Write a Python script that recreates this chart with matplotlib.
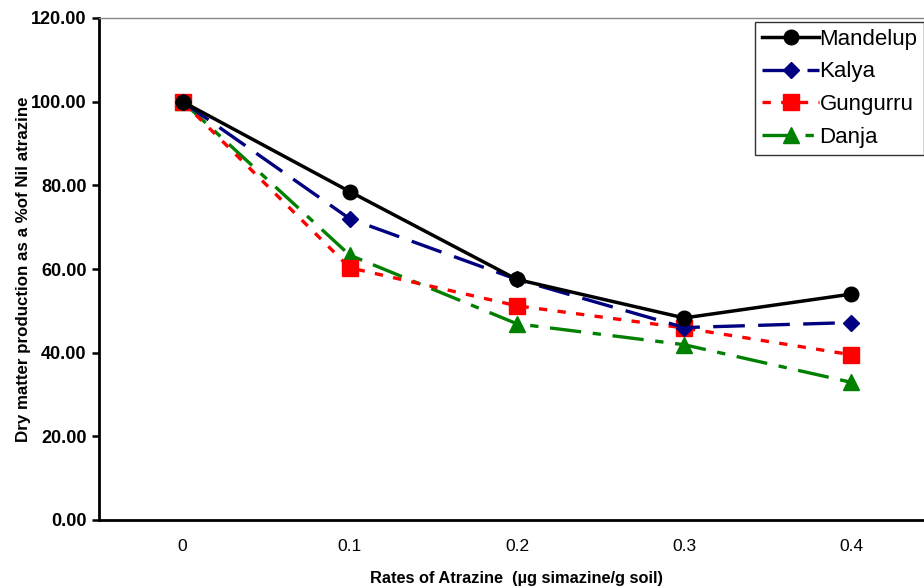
import matplotlib
matplotlib.use("Agg")
import matplotlib.pyplot as plt
import numpy as np

plt.rcParams["font.family"] = ["Liberation Sans", "DejaVu Sans"]

# Atrazine rates and relative dry matter (% of nil atrazine) per cultivar
rates = ["0", "0.1", "0.2", "0.3", "0.4"]
mandelup = [100.0, 78.5, 57.5, 48.3, 54.0]
kalya = [100.0, 72.0, 57.5, 46.0, 47.2]
gungurru = [100.0, 60.3, 51.2, 45.9, 39.5]
danja = [100.0, 63.3, 46.9, 41.9, 32.9]

W, H = 924, 588
fig = plt.figure(figsize=(W / 100, H / 100), dpi=100)
# axes run past the right edge of the page
ax = fig.add_axes([99 / W, (H - 520) / H, (935 - 99) / W, 502 / H])

x = np.arange(len(rates))
ax.plot(x, mandelup, "-o", color="black", lw=2.5, ms=10.5, label="Mandelup", zorder=5)
ax.plot(x, kalya, "--D", color="#000080", lw=2.4, ms=8.5, dashes=(9.5, 4),
        label="Kalya", zorder=4)
ax.plot(x, gungurru, ":s", color="#ff0000", lw=2.4, ms=11, dashes=(2.5, 3.1),
        label="Gungurru", zorder=3)
ax.plot(x, danja, "-.^", color="#008000", lw=2.4, ms=11, dashes=(9.4, 3.5, 2.5, 3.5),
        label="Danja", zorder=2)

ax.set_xlim(-0.5, len(rates) - 0.5)
ax.set_ylim(0, 120)
ax.set_xticks(x)
ax.set_xticklabels(rates)
ax.set_yticks(np.arange(0, 121, 20))
ax.set_yticklabels([f"{v:.2f}" for v in np.arange(0, 121, 20)],
                   fontweight="bold")
ax.tick_params(axis="x", length=0, labelsize=12.5, pad=14)
ax.tick_params(axis="y", length=5, width=1.8, labelsize=13, direction="out",
               pad=4)

ax.spines["left"].set_linewidth(2)
ax.spines["bottom"].set_linewidth(2)
ax.spines["top"].set_color("#888888")
ax.spines["top"].set_linewidth(1)
ax.spines["right"].set_visible(False)

ax.set_xlabel("Rates of Atrazine  (µg simazine/g soil)", fontweight="bold",
              fontsize=11.8, labelpad=12)
ax.set_ylabel("Dry matter production as a %of Nil atrazine", fontweight="bold",
              fontsize=12.2, labelpad=0)

leg = ax.legend(loc="upper left", bbox_to_anchor=(755 / W, 1 - 22 / H),
                bbox_transform=fig.transFigure, borderaxespad=0,
                fontsize=16, handlelength=2.6, handletextpad=0.0,
                labelspacing=0.53, borderpad=0.3, fancybox=False)
leg.get_frame().set_edgecolor("black")
leg.get_frame().set_linewidth(1)

fig.savefig("out.png", dpi=100)
